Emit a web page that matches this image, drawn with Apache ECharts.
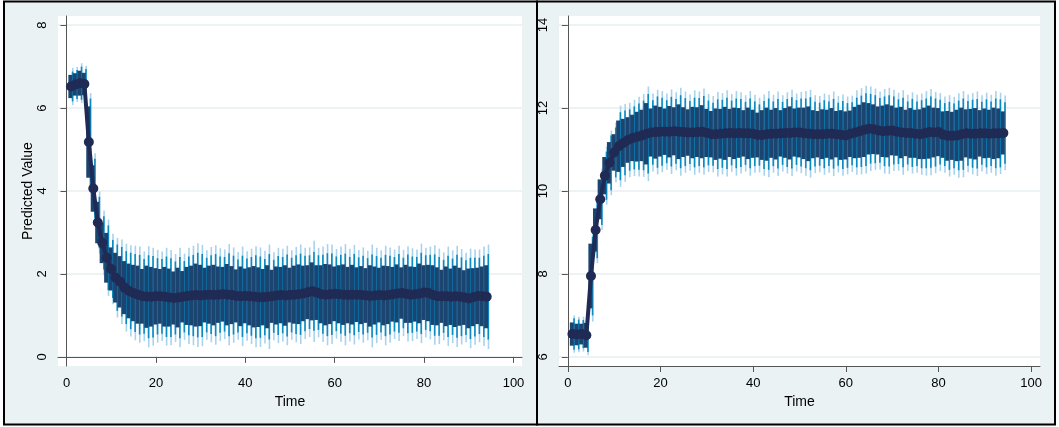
<!DOCTYPE html>
<html>
<head>
<meta charset="utf-8">
<script src="https://cdn.jsdelivr.net/npm/echarts@6/dist/echarts.min.js"></script>
<style>
html,body{margin:0;padding:0;background:#ffffff;}
#chart{width:1059px;height:427px;}
</style>
</head>
<body>
<div id="chart"></div>
<script>
// ---------- DATA ----------
const time = Array.from({length: 94}, (_, i) => i + 1);
const xTicks = [0, 20, 40, 60, 80, 100];
const yTicksLeft = [0, 2, 4, 6, 8];
const yTicksRight = [6, 8, 10, 12, 14];

// Left panel: predicted values
const meanLeft = [
  6.52,6.57,6.60,6.58,5.18,4.06,3.24,2.75,2.39,2.12,
  1.91,1.81,1.67,1.59,1.54,1.50,1.46,1.45,1.45,1.46,
  1.46,1.45,1.43,1.42,1.43,1.45,1.47,1.48,1.49,1.48,
  1.49,1.50,1.49,1.50,1.51,1.50,1.49,1.47,1.46,1.47,
  1.46,1.45,1.44,1.44,1.45,1.46,1.48,1.49,1.48,1.49,
  1.50,1.51,1.53,1.56,1.58,1.55,1.51,1.50,1.51,1.52,
  1.51,1.50,1.49,1.50,1.50,1.49,1.48,1.47,1.48,1.49,
  1.48,1.49,1.51,1.53,1.54,1.52,1.50,1.51,1.53,1.55,
  1.54,1.49,1.46,1.46,1.46,1.45,1.46,1.45,1.43,1.41,
  1.44,1.47,1.46,1.45
];
const hwDarkLeft = [
  0.28,0.27,0.30,0.27,0.86,0.56,0.50,0.49,0.60,0.52,
  0.60,0.62,0.64,0.66,0.68,0.70,0.66,0.75,0.72,0.68,
  0.66,0.72,0.70,0.64,0.72,0.62,0.70,0.72,0.76,0.74,
  0.66,0.70,0.73,0.68,0.66,0.74,0.70,0.64,0.72,0.66,
  0.70,0.74,0.72,0.68,0.76,0.64,0.70,0.68,0.73,0.66,
  0.70,0.72,0.67,0.65,0.70,0.66,0.70,0.74,0.72,0.66,
  0.70,0.73,0.68,0.72,0.66,0.70,0.66,0.74,0.70,0.66,
  0.72,0.70,0.66,0.70,0.62,0.70,0.68,0.66,0.72,0.66,
  0.68,0.72,0.70,0.64,0.72,0.68,0.74,0.70,0.66,0.72,
  0.70,0.68,0.72,0.76
];
const hwMidLeft = [
  0.36,0.35,0.40,0.36,1.05,0.72,0.62,0.64,0.78,0.70,
  0.80,0.84,0.88,0.92,0.94,0.96,0.90,1.00,0.98,0.92,
  0.90,0.97,0.95,0.88,0.98,0.86,0.95,0.98,1.02,1.00,
  0.90,0.95,0.99,0.92,0.90,1.00,0.95,0.88,0.98,0.90,
  0.95,1.00,0.98,0.92,1.03,0.88,0.95,0.92,0.99,0.90,
  0.95,0.98,0.91,0.89,0.95,0.90,0.95,1.00,0.98,0.90,
  0.95,0.99,0.92,0.98,0.90,0.95,0.90,1.00,0.95,0.90,
  0.98,0.95,0.90,0.95,0.85,0.95,0.92,0.90,0.98,0.90,
  0.92,0.98,0.95,0.88,0.98,0.92,1.00,0.95,0.90,0.98,
  0.95,0.92,0.98,1.03
];
const hwLightLeft = [
  0.45,0.42,0.48,0.44,1.18,0.85,0.75,0.78,0.92,0.85,
  0.96,1.02,1.06,1.10,1.14,1.16,1.08,1.22,1.18,1.12,
  1.08,1.18,1.15,1.06,1.20,1.04,1.16,1.20,1.25,1.22,
  1.08,1.15,1.20,1.12,1.08,1.22,1.15,1.06,1.20,1.08,
  1.15,1.22,1.20,1.12,1.26,1.06,1.15,1.12,1.20,1.08,
  1.15,1.20,1.10,1.08,1.22,1.08,1.15,1.22,1.20,1.08,
  1.15,1.22,1.12,1.20,1.08,1.15,1.08,1.24,1.15,1.08,
  1.20,1.15,1.08,1.15,1.04,1.15,1.12,1.08,1.20,1.08,
  1.12,1.20,1.15,1.06,1.20,1.12,1.22,1.15,1.08,1.20,
  1.15,1.12,1.20,1.26
];

// Right panel: predicted values
const meanRight = [
  6.55,6.54,6.55,6.52,7.95,9.06,9.80,10.37,10.68,10.93,
  11.08,11.16,11.23,11.28,11.31,11.34,11.38,11.41,11.42,11.43,
  11.43,11.43,11.44,11.43,11.42,11.41,11.41,11.42,11.43,11.40,
  11.37,11.37,11.38,11.39,11.40,11.39,11.40,11.39,11.39,11.38,
  11.35,11.35,11.37,11.38,11.38,11.39,11.40,11.40,11.41,11.41,
  11.39,11.38,11.37,11.37,11.37,11.38,11.38,11.37,11.35,11.34,
  11.38,11.41,11.44,11.48,11.50,11.49,11.46,11.44,11.45,11.46,
  11.43,11.41,11.40,11.40,11.38,11.37,11.39,11.42,11.41,11.42,
  11.36,11.33,11.33,11.34,11.37,11.39,11.38,11.38,11.39,11.39,
  11.38,11.39,11.39,11.40
];
const hwDarkRight = [
  0.28,0.26,0.25,0.30,0.78,0.52,0.48,0.45,0.50,0.44,
  0.62,0.58,0.55,0.56,0.60,0.62,0.74,0.58,0.64,0.60,
  0.56,0.62,0.58,0.66,0.60,0.56,0.62,0.60,0.64,0.58,
  0.56,0.62,0.60,0.64,0.58,0.62,0.60,0.56,0.62,0.58,
  0.54,0.60,0.64,0.58,0.62,0.56,0.60,0.64,0.58,0.60,
  0.62,0.66,0.58,0.56,0.60,0.58,0.62,0.56,0.60,0.58,
  0.56,0.62,0.64,0.66,0.62,0.60,0.58,0.62,0.64,0.60,
  0.58,0.62,0.56,0.60,0.58,0.60,0.62,0.64,0.60,0.58,
  0.56,0.60,0.58,0.62,0.64,0.58,0.60,0.62,0.56,0.60,
  0.58,0.62,0.60,0.52
];
const hwMidRight = [
  0.38,0.36,0.34,0.40,0.95,0.68,0.62,0.58,0.66,0.60,
  0.82,0.78,0.74,0.76,0.80,0.84,0.96,0.78,0.86,0.82,
  0.76,0.84,0.78,0.88,0.82,0.76,0.84,0.82,0.86,0.78,
  0.76,0.84,0.82,0.86,0.78,0.84,0.82,0.76,0.84,0.78,
  0.74,0.82,0.86,0.78,0.84,0.76,0.82,0.86,0.78,0.82,
  0.84,0.88,0.78,0.76,0.82,0.78,0.84,0.76,0.82,0.78,
  0.76,0.84,0.86,0.88,0.84,0.82,0.78,0.84,0.86,0.82,
  0.78,0.84,0.76,0.82,0.78,0.82,0.84,0.86,0.82,0.78,
  0.76,0.82,0.78,0.84,0.86,0.78,0.82,0.84,0.76,0.82,
  0.78,0.84,0.82,0.74
];
const hwLightRight = [
  0.45,0.43,0.42,0.48,1.10,0.80,0.74,0.70,0.78,0.72,
  0.98,0.94,0.90,0.92,0.96,1.00,1.14,0.94,1.02,0.98,
  0.92,1.02,0.94,1.06,0.98,0.92,1.02,0.98,1.04,0.94,
  0.92,1.02,0.98,1.04,0.94,1.02,0.98,0.92,1.02,0.94,
  0.90,0.98,1.04,0.94,1.02,0.92,0.98,1.04,0.94,0.98,
  1.02,1.06,0.94,0.92,0.98,0.94,1.02,0.92,0.98,0.94,
  0.92,1.02,1.04,1.06,1.02,0.98,0.94,1.02,1.04,0.98,
  0.94,1.02,0.92,0.98,0.94,0.98,1.02,1.04,0.98,0.94,
  0.92,0.98,0.94,1.02,1.04,0.94,0.98,1.02,0.92,0.98,
  0.94,1.02,0.98,0.90
];

// ---------- STYLE ----------
const BG = '#eaf2f3';
const C_DARK = '#1b4571';
const C_MID = '#0b8ac2';
const C_LIGHT = '#a9d3ec';
const C_DOT = '#1f2b54';
const AX = '#555555';
const FONT = 'Liberation Sans, Arial, sans-serif';

function ciSeries(idx, mean, hw, color, width, offset, z) {
  return {
    type: 'custom',
    xAxisIndex: idx, yAxisIndex: idx,
    z: z, clip: true, silent: true,
    data: time.map((t, i) => [t, mean[i] - hw[i], mean[i] + hw[i]]),
    encode: {x: 0, y: [1, 2]},
    renderItem: function (params, api) {
      const lo = api.coord([api.value(0), api.value(1)]);
      const hi = api.coord([api.value(0), api.value(2)]);
      return {
        type: 'rect',
        shape: {x: lo[0] + offset - width / 2, y: hi[1], width: width, height: lo[1] - hi[1]},
        style: {fill: color}
      };
    }
  };
}
function dotSeries(idx, mean) {
  return {
    type: 'line', xAxisIndex: idx, yAxisIndex: idx, z: 10,
    data: time.map((t, i) => [t, mean[i]]),
    symbol: 'circle', symbolSize: 10, showSymbol: true,
    lineStyle: {color: C_DOT, width: 4},
    itemStyle: {color: C_DOT},
    emphasis: {disabled: true}, animation: false
  };
}
function xAxis(idx) {
  return {
    type: 'value', gridIndex: idx, min: -1.9, max: 101.9,
    name: 'Time', nameLocation: 'middle', nameGap: 20,
    nameTextStyle: {color: '#000', fontSize: 14, fontFamily: FONT},
    axisLine: {show: true, lineStyle: {color: AX, width: 1}},
    axisTick: {show: true, length: 6, customValues: xTicks, lineStyle: {color: AX}},
    axisLabel: {customValues: xTicks, margin: 11, color: '#000', fontSize: 13, fontFamily: FONT},
    splitLine: {show: false}
  };
}
function yAxis(idx, ticks, min, max, name) {
  return {
    type: 'value', gridIndex: idx, min: min, max: max,
    name: name, nameLocation: 'middle', nameGap: 23,
    nameTextStyle: {color: '#000', fontSize: 14, fontFamily: FONT},
    axisLine: {show: true, lineStyle: {color: AX, width: 1}},
    axisTick: {show: true, length: 6, customValues: ticks, lineStyle: {color: AX}},
    axisLabel: {customValues: ticks, rotate: 90, margin: 9, color: '#000', fontSize: 13, fontFamily: FONT},
    splitLine: {show: true, lineStyle: {color: '#e7eff1', width: 1.5}}
  };
}

const chart = echarts.init(document.getElementById('chart'), null, {renderer: 'canvas'});
chart.setOption({
  animation: false,
  backgroundColor: '#ffffff',
  graphic: [
    {type: 'rect', z: -100, shape: {x: 4, y: 1.5, width: 533, height: 423}, style: {fill: BG, stroke: '#000', lineWidth: 2}},
    {type: 'rect', z: -100, shape: {x: 537, y: 1.5, width: 518, height: 423}, style: {fill: BG, stroke: '#000', lineWidth: 2}}
  ],
  grid: [
    {left: 58, top: 16, width: 464, height: 350, show: true, backgroundColor: '#ffffff', borderWidth: 0},
    {left: 559, top: 16, width: 481, height: 350, show: true, backgroundColor: '#ffffff', borderWidth: 0}
  ],
  xAxis: [xAxis(0), xAxis(1)],
  yAxis: [
    yAxis(0, yTicksLeft, -0.22, 8.22, 'Predicted Value'),
    yAxis(1, yTicksRight, 5.78, 14.22, '')
  ],
  series: [
    ciSeries(0, meanLeft, hwLightLeft, C_LIGHT, 1.6, 1.8, 2),
    ciSeries(0, meanLeft, hwMidLeft, C_MID, 1.6, 1.6, 3),
    ciSeries(0, meanLeft, hwDarkLeft, C_DARK, 4, -0.6, 4),
    dotSeries(0, meanLeft),
    ciSeries(1, meanRight, hwLightRight, C_LIGHT, 1.6, 1.8, 2),
    ciSeries(1, meanRight, hwMidRight, C_MID, 1.6, 1.6, 3),
    ciSeries(1, meanRight, hwDarkRight, C_DARK, 4, -0.6, 4),
    dotSeries(1, meanRight)
  ]
});
</script>
</body>
</html>
